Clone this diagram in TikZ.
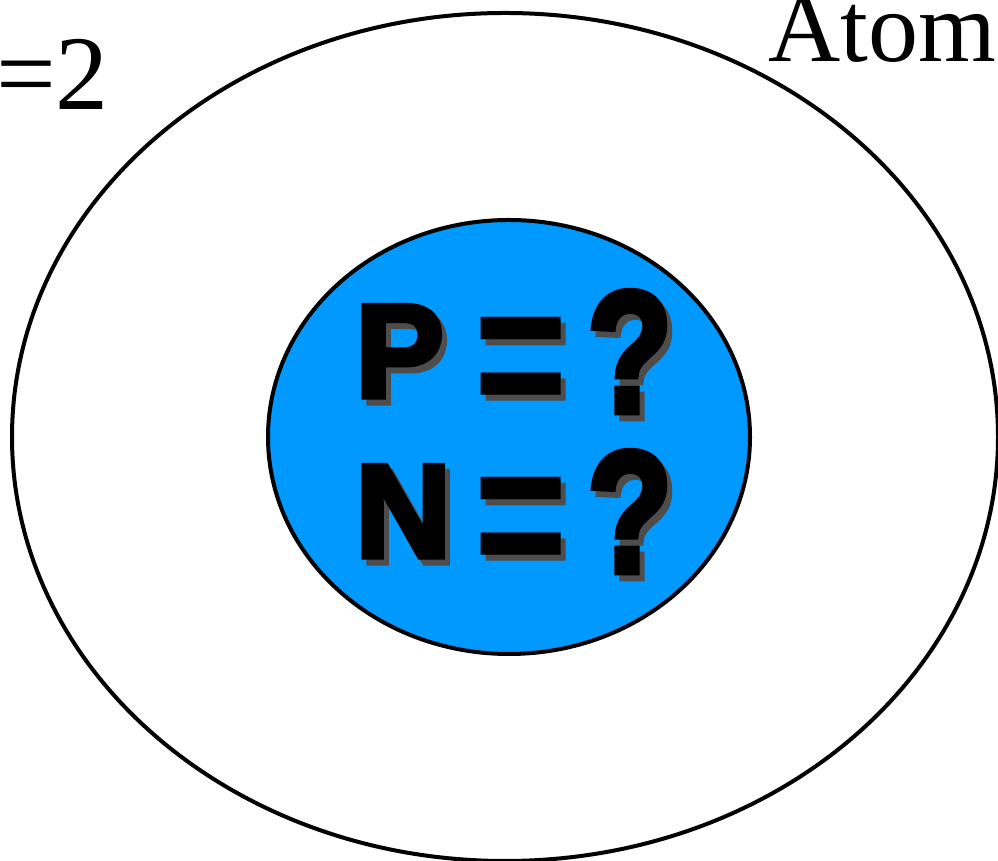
\documentclass[tikz,border=0pt]{standalone}
\usepackage{fontspec}
\usepackage{graphicx}
\setmainfont{Liberation Serif}
\newfontfamily\heavyfont[FakeBold=4]{Liberation Sans Bold}
\newfontfamily\barfont{Liberation Sans Bold}
\usetikzlibrary{positioning}
\definecolor{nucleusblue}{RGB}{0, 153, 255}
\definecolor{shadowgrey}{RGB}{77, 77, 77}
% one line of the nucleus: letter, wide equals sign, tall question mark
\newcommand{\nucline}[1]{\makebox[119pt][l]{#1}\makebox[113pt][l]{\barfont\raisebox{-28pt}{\scalebox{1.2}[1.55]{=}}}\raisebox{-15pt}{\scalebox{1.05}[1.3]{?}}}

\begin{document}
\begin{tikzpicture}[
        x=1pt, y=1pt,
        shell/.style={draw=black, line width=4pt},
        label/.style={inner sep=0pt, font=\fontsize{106}{106}\selectfont},
        quest/.style={inner sep=0pt, anchor=base west, font=\heavyfont\fontsize{133}{133}\selectfont},
        questshadow/.style={quest, text=shadowgrey}
    ]
        \useasboundingbox (0,0) rectangle (998,861);
        \draw[shell, fill=white] (505,424) ellipse [x radius=493, y radius=424];
        \draw[shell, fill=nucleusblue] (509,424) ellipse [x radius=241, y radius=217];

        \node[label, anchor=base east] (mass) at (109,751) {=2};
        \node[label, anchor=base west, font=\fontsize{100}{100}\selectfont] (atom) at (768,799) {Atom};

        \node[questshadow] (pshadow) at (360,458) {\nucline{P}};
        \node[quest] (pline) at (355,464) {\nucline{P}};
        \node[questshadow] (nshadow) at (360,298) {\nucline{N}};
        \node[quest] (nline) at (355,304) {\nucline{N}};
    \end{tikzpicture}
\end{document}
